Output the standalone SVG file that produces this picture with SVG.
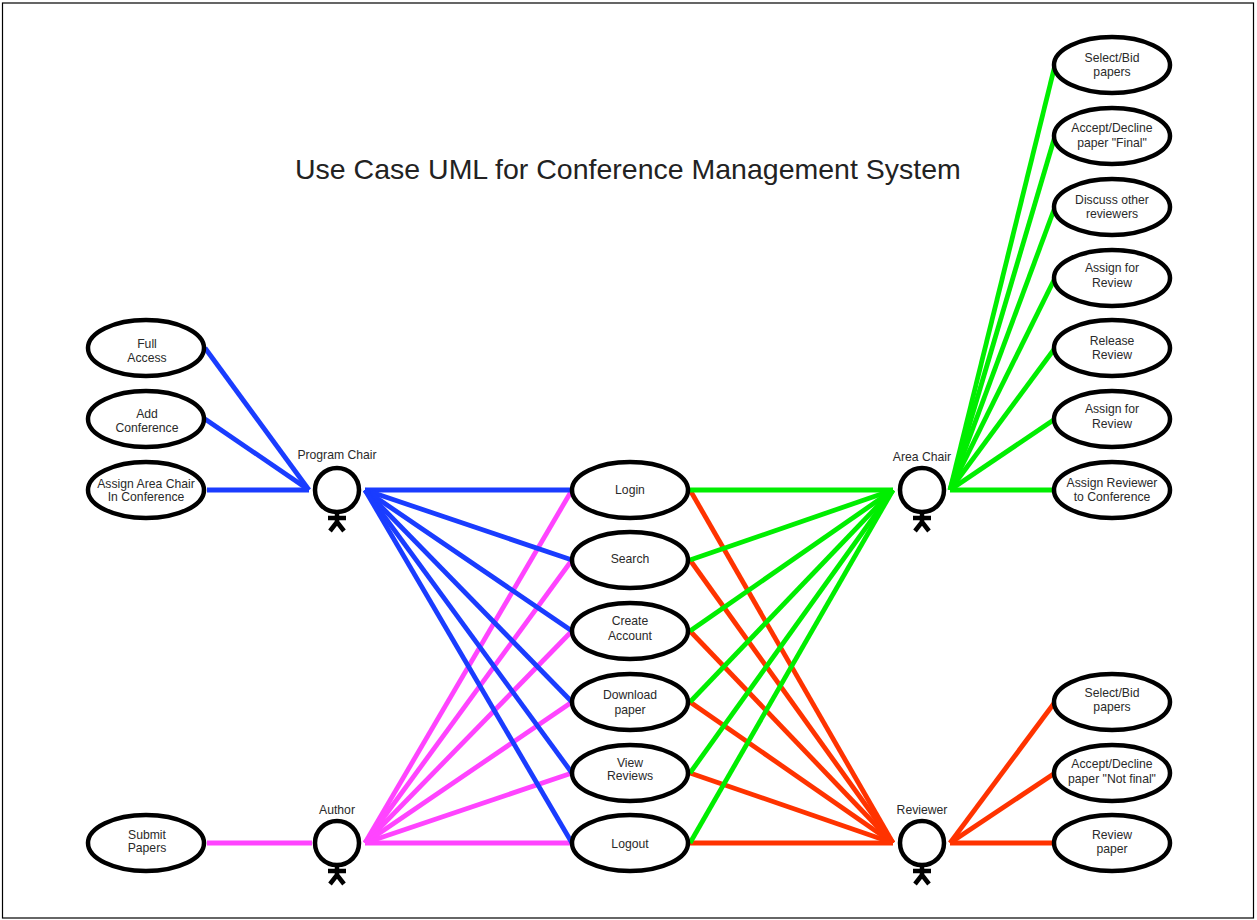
<svg xmlns="http://www.w3.org/2000/svg" width="1257" height="920" viewBox="0 0 1257 920">
<style>
text{font-family:"Liberation Sans",Arial,sans-serif;font-size:12.2px;fill:#2a2a2a;text-anchor:middle}
.title{font-size:28.5px;text-anchor:start;fill:#222}
.uc{fill:#fff;stroke:#000;stroke-width:4.5}
.head{fill:#fff;stroke:#000;stroke-width:4.5}
.stick{fill:none;stroke:#000;stroke-width:4.5}
.conn line{stroke-width:4.8;fill:none}
.b line{stroke:#1a3cff}
.m line{stroke:#ff44ff}
.g line{stroke:#00ee00}
.r line{stroke:#ff3300}
</style>
<defs>
<g id="actor">
<circle class="head" cx="0" cy="0" r="22"/>
<path class="stick" d="M0 22V32M-9 28H9M-7 41L0 32L7 41"/>
</g>
</defs>
<rect x="2.500" y="3" width="1251" height="915" fill="#fff" stroke="#000" stroke-width="1.200"/>
<text class="title" x="295" y="179">Use Case UML for Conference Management System</text>
<g id="connectors" class="conn">
<g class="m">
<line x1="207" y1="843" x2="312" y2="843"/>
<line x1="365" y1="843" x2="572" y2="490"/>
<line x1="365" y1="843" x2="572" y2="560"/>
<line x1="365" y1="843" x2="572" y2="631"/>
<line x1="365" y1="843" x2="572" y2="702"/>
<line x1="365" y1="843" x2="572" y2="773"/>
<line x1="365" y1="843" x2="572" y2="843"/>
</g>
<g class="b">
<line x1="205" y1="348" x2="309" y2="490"/>
<line x1="205" y1="419" x2="309" y2="490"/>
<line x1="207" y1="490" x2="309" y2="490"/>
<line x1="365" y1="490" x2="572" y2="490"/>
<line x1="365" y1="490" x2="572" y2="560"/>
<line x1="365" y1="490" x2="572" y2="631"/>
<line x1="365" y1="490" x2="572" y2="702"/>
<line x1="365" y1="490" x2="572" y2="773"/>
<line x1="365" y1="490" x2="572" y2="843"/>
</g>
<g class="r">
<line x1="690" y1="490" x2="893" y2="843"/>
<line x1="690" y1="560" x2="893" y2="843"/>
<line x1="690" y1="631" x2="893" y2="843"/>
<line x1="690" y1="702" x2="893" y2="843"/>
<line x1="690" y1="773" x2="893" y2="843"/>
<line x1="690" y1="843" x2="893" y2="843"/>
<line x1="950" y1="843" x2="1055" y2="702"/>
<line x1="950" y1="843" x2="1055" y2="773"/>
<line x1="950" y1="843" x2="1055" y2="843"/>
</g>
<g class="g">
<line x1="690" y1="490" x2="893" y2="490"/>
<line x1="690" y1="560" x2="893" y2="490"/>
<line x1="690" y1="631" x2="893" y2="490"/>
<line x1="690" y1="702" x2="893" y2="490"/>
<line x1="690" y1="773" x2="893" y2="490"/>
<line x1="690" y1="843" x2="893" y2="490"/>
<line x1="950" y1="490" x2="1055" y2="65"/>
<line x1="950" y1="490" x2="1055" y2="136"/>
<line x1="950" y1="490" x2="1055" y2="207"/>
<line x1="950" y1="490" x2="1055" y2="278"/>
<line x1="950" y1="490" x2="1055" y2="348"/>
<line x1="950" y1="490" x2="1055" y2="419"/>
<line x1="950" y1="490" x2="1055" y2="490"/>
</g>
</g>
<g id="program-chair"><use href="#actor" x="337" y="490"/><text x="337" y="459">Program Chair</text></g>
<g id="author"><use href="#actor" x="337" y="843"/><text x="337" y="814">Author</text></g>
<g id="area-chair"><use href="#actor" x="922" y="490"/><text x="922" y="461">Area Chair</text></g>
<g id="reviewer"><use href="#actor" x="922" y="843"/><text x="922" y="814">Reviewer</text></g>
<g id="full-access"><ellipse class="uc" cx="146" cy="348" rx="58" ry="28"/><text x="147" y="348">Full</text><text x="147" y="362">Access</text></g>
<g id="add-conference"><ellipse class="uc" cx="146" cy="419" rx="58" ry="28"/><text x="147" y="418">Add</text><text x="147" y="432">Conference</text></g>
<g id="assign-area-chair"><ellipse class="uc" cx="146" cy="490" rx="58" ry="28"/><text x="146" y="488">Assign Area Chair</text><text x="146" y="501">In Conference</text></g>
<g id="submit-papers"><ellipse class="uc" cx="146" cy="843" rx="58" ry="28"/><text x="147" y="839">Submit</text><text x="147" y="852">Papers</text></g>
<g id="login"><ellipse class="uc" cx="630" cy="490" rx="58" ry="28"/><text x="630" y="494">Login</text></g>
<g id="search"><ellipse class="uc" cx="630" cy="560" rx="58" ry="28"/><text x="630" y="563">Search</text></g>
<g id="create-account"><ellipse class="uc" cx="630" cy="631" rx="58" ry="28"/><text x="630" y="625">Create</text><text x="630" y="640">Account</text></g>
<g id="download-paper"><ellipse class="uc" cx="630" cy="702" rx="58" ry="28"/><text x="630" y="699">Download</text><text x="630" y="714">paper</text></g>
<g id="view-reviews"><ellipse class="uc" cx="630" cy="773" rx="58" ry="28"/><text x="630" y="767">View</text><text x="630" y="780">Reviews</text></g>
<g id="logout"><ellipse class="uc" cx="630" cy="843" rx="58" ry="28"/><text x="630" y="848">Logout</text></g>
<g id="select-bid-1"><ellipse class="uc" cx="1112" cy="65" rx="58" ry="28"/><text x="1112" y="62">Select/Bid</text><text x="1112" y="76">papers</text></g>
<g id="accept-final"><ellipse class="uc" cx="1112" cy="136" rx="58" ry="28"/><text x="1112" y="132">Accept/Decline</text><text x="1112" y="147">paper "Final"</text></g>
<g id="discuss"><ellipse class="uc" cx="1112" cy="207" rx="58" ry="28"/><text x="1112" y="204">Discuss other</text><text x="1112" y="218">reviewers</text></g>
<g id="assign-review-1"><ellipse class="uc" cx="1112" cy="278" rx="58" ry="28"/><text x="1112" y="272">Assign for</text><text x="1112" y="287">Review</text></g>
<g id="release-review"><ellipse class="uc" cx="1112" cy="348" rx="58" ry="28"/><text x="1112" y="345">Release</text><text x="1112" y="359">Review</text></g>
<g id="assign-review-2"><ellipse class="uc" cx="1112" cy="419" rx="58" ry="28"/><text x="1112" y="413">Assign for</text><text x="1112" y="428">Review</text></g>
<g id="assign-reviewer"><ellipse class="uc" cx="1112" cy="490" rx="58" ry="28"/><text x="1112" y="487">Assign Reviewer</text><text x="1112" y="501">to Conference</text></g>
<g id="select-bid-2"><ellipse class="uc" cx="1112" cy="702" rx="58" ry="28"/><text x="1112" y="697">Select/Bid</text><text x="1112" y="711">papers</text></g>
<g id="accept-not-final"><ellipse class="uc" cx="1112" cy="773" rx="58" ry="28"/><text x="1112" y="768">Accept/Decline</text><text x="1112" y="783">paper "Not final"</text></g>
<g id="review-paper"><ellipse class="uc" cx="1112" cy="843" rx="58" ry="28"/><text x="1112" y="839">Review</text><text x="1112" y="853">paper</text></g>
</svg>
